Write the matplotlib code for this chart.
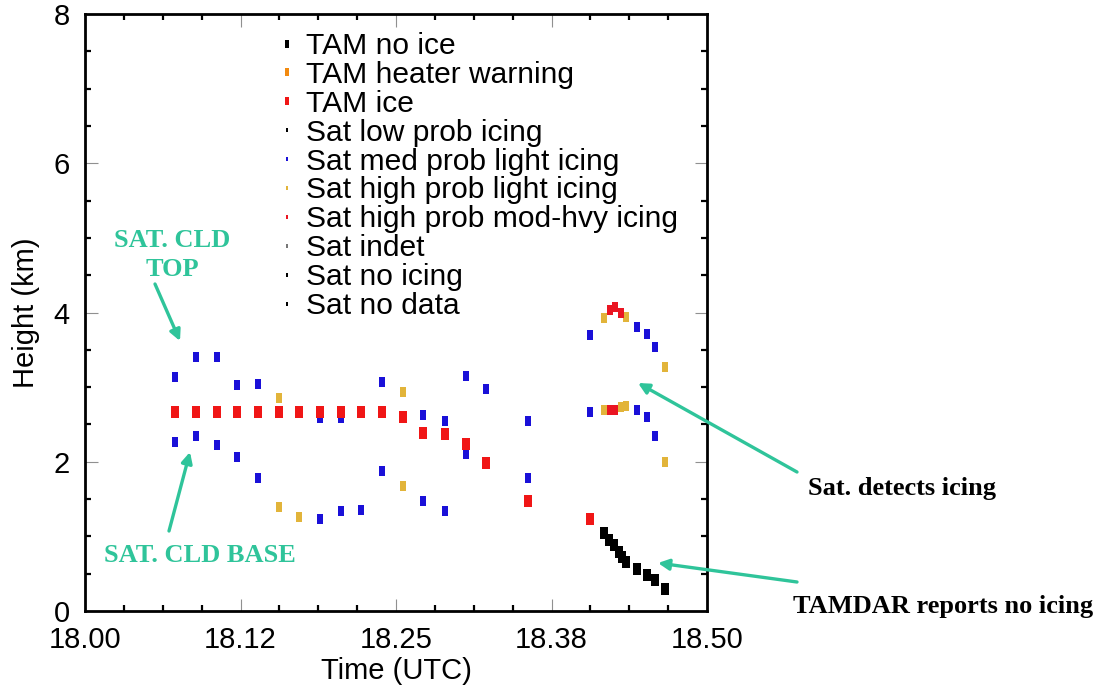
import matplotlib
matplotlib.use("Agg")
import matplotlib.pyplot as plt
import numpy as np
from matplotlib.lines import Line2D
from matplotlib.path import Path
from matplotlib.ticker import MultipleLocator, FixedLocator, FixedFormatter

# ---------------- data ----------------
sat_time = [18.072, 18.089, 18.106, 18.122, 18.139, 18.156, 18.172, 18.189,
            18.206, 18.222, 18.239, 18.256, 18.272, 18.289, 18.306, 18.322,
            18.356,
            18.406, 18.417, 18.422, 18.426, 18.431, 18.435, 18.444, 18.452,
            18.458, 18.466]
sat_top = [3.13, 3.41, 3.41, 3.03, 3.04, 2.86, np.nan, 2.58,
           2.58, np.nan, 3.07, 2.93, 2.62, 2.55, 3.15, 2.98,
           2.54,
           3.70, 3.92, 4.03, 4.08, 4.00, 3.94, 3.80, 3.71, 3.54, 3.27]
sat_top_cat = ["med", "med", "med", "med", "med", "hl", "med", "med",
               "med", "med", "med", "hl", "med", "med", "med", "med",
               "med",
               "med", "hl", "hm", "hm", "hm", "hl", "med", "med", "med", "hl"]
sat_base = [2.26, 2.35, 2.23, 2.06, 1.78, 1.40, 1.26, 1.23,
            1.34, 1.36, 1.87, 1.68, 1.47, 1.34, 2.11, np.nan,
            1.78,
            2.66, 2.69, 2.70, 2.70, 2.74, 2.75, 2.69, 2.60, 2.35, 2.00]
sat_base_cat = ["med", "med", "med", "med", "med", "hl", "hl", "med",
                "med", "med", "med", "hl", "med", "med", "med", "med",
                "med",
                "med", "hl", "hm", "hm", "hl", "hl", "med", "med", "med", "hl"]

tam_time = [18.072, 18.089, 18.106, 18.122, 18.139, 18.156, 18.172, 18.189,
            18.206, 18.222, 18.239, 18.256, 18.272, 18.289, 18.306, 18.322,
            18.356, 18.406,
            18.417, 18.421, 18.425, 18.429, 18.432, 18.435, 18.444, 18.452,
            18.458, 18.466]
tam_height = [2.67, 2.67, 2.67, 2.67, 2.67, 2.67, 2.67, 2.67,
              2.67, 2.67, 2.67, 2.60, 2.38, 2.37, 2.24, 1.98,
              1.47, 1.23,
              1.04, 0.95, 0.88, 0.79, 0.73, 0.66, 0.56, 0.48, 0.42, 0.30]
tam_cat = ["ice"] * 18 + ["no"] * 10

legend_labels = ["TAM no ice", "TAM heater warning", "TAM ice",
                 "Sat low prob icing", "Sat med prob light icing",
                 "Sat high prob light icing", "Sat high prob mod-hvy icing",
                 "Sat indet", "Sat no icing", "Sat no data"]
x_tick_values = [18.0, 18.125, 18.25, 18.375, 18.5]
x_tick_labels = ["18.00", "18.12", "18.25", "18.38", "18.50"]
y_tick_values = [0, 2, 4, 6, 8]

# ---------------- styles ----------------
sat_colors = {"med": "#1a10d8", "hl": "#e2b43a", "hm": "#ea1522"}
tam_colors = {"no": "#000000", "warn": "#f28a10", "ice": "#f01616"}
teal = "#2fc49a"

def rect_marker(aspect):
    w = aspect
    verts = [(-w, -1), (w, -1), (w, 1), (-w, 1), (-w, -1)]
    codes = [Path.MOVETO, Path.LINETO, Path.LINETO, Path.LINETO, Path.CLOSEPOLY]
    return Path(verts, codes)

sat_mk = rect_marker(0.58)
tam_mk = rect_marker(0.58)

plt.rcParams["font.family"] = ["Liberation Sans", "DejaVu Sans"]

fig = plt.figure(figsize=(10.98, 6.86), dpi=100)
W, H = 1098, 686
ax_l, ax_r, ax_t, ax_b = 85, 707, 14, 611
ax = fig.add_axes([ax_l / W, 1 - ax_b / H, (ax_r - ax_l) / W, (ax_b - ax_t) / H])

# satellite points
for times, vals, cats in [(sat_time, sat_top, sat_top_cat), (sat_time, sat_base, sat_base_cat)]:
    for key, col in sat_colors.items():
        xs = [t for t, v, c in zip(times, vals, cats) if c == key]
        ys = [v for t, v, c in zip(times, vals, cats) if c == key]
        ax.plot(xs, ys, linestyle="none", marker=sat_mk, markersize=6.8,
                color=col, markeredgewidth=0, zorder=3)

# TAMDAR points
for key, col in tam_colors.items():
    xs = [t for t, c in zip(tam_time, tam_cat) if c == key]
    ys = [h for h, c in zip(tam_height, tam_cat) if c == key]
    if xs:
        ax.plot(xs, ys, linestyle="none", marker=tam_mk, markersize=8.8,
                color=col, markeredgewidth=0, zorder=4)

ax.set_xlim(18.0, 18.5)
ax.set_ylim(0, 8)

ax.xaxis.set_major_locator(FixedLocator(x_tick_values))
ax.xaxis.set_major_formatter(FixedFormatter(x_tick_labels))
ax.xaxis.set_minor_locator(MultipleLocator(0.03125))
ax.yaxis.set_major_locator(FixedLocator(y_tick_values))
ax.yaxis.set_minor_locator(MultipleLocator(0.5))

ax.tick_params(which="both", direction="in", top=True, right=True)
ax.tick_params(which="major", length=9, width=0.8, color="#909090",
               labelsize=21, pad=11)
ax.tick_params(which="minor", length=4.5, width=1.6, color="black")
for s in ax.spines.values():
    s.set_linewidth(2.0)

ax.set_xlabel("Time (UTC)", fontsize=21, labelpad=2)
ax.set_ylabel("Height (km)", fontsize=21, labelpad=10)

# legend
leg_colors = [tam_colors["no"], tam_colors["warn"], tam_colors["ice"],
              "black", sat_colors["med"], sat_colors["hl"], sat_colors["hm"],
              "#777777", "black", "black"]
leg_sizes = [5.5, 5.5, 5.5, 3, 3, 3, 3, 3, 3, 3]
handles = [Line2D([], [], linestyle="none", marker=tam_mk if i < 3 else sat_mk,
                  markersize=s, color=c, markeredgewidth=0)
           for i, (c, s) in enumerate(zip(leg_colors, leg_sizes))]
leg = fig.legend(handles, legend_labels, loc="upper left",
                 bbox_to_anchor=(281 / W, 1 - 32 / H), frameon=False,
                 fontsize=21.6, handlelength=0.4, handletextpad=0.45,
                 labelspacing=0.03, borderpad=0, borderaxespad=0)

# annotations
serif = ["Liberation Serif", "DejaVu Serif"]
fig.text(172 / W, 1 - 255 / H, "SAT. CLD\nTOP", color=teal, family=serif,
         fontweight="bold", fontsize=19, ha="center", va="center",
         linespacing=1.3)
fig.text(200 / W, 1 - 556 / H, "SAT. CLD BASE", color=teal, family=serif,
         fontweight="bold", fontsize=19, ha="center", va="center")
fig.text(808 / W, 1 - 488 / H, "Sat. detects icing", color="black",
         family=serif, fontweight="bold", fontsize=19, ha="left", va="center")
fig.text(793 / W, 1 - 607 / H, "TAMDAR reports no icing", color="black",
         family=serif, fontweight="bold", fontsize=19, ha="left", va="center")

arrow_kw = dict(arrowstyle="-|>", color=teal, lw=2.4, mutation_scale=16,
                shrinkA=0, shrinkB=0)
for start, end in [((155, 284), (180, 341)), ((169, 531), (190, 452)),
                   ((797, 472), (638, 383)), ((797, 582), (658, 563))]:
    fig.add_artist(matplotlib.patches.FancyArrowPatch(
        (start[0] / W, 1 - start[1] / H), (end[0] / W, 1 - end[1] / H),
        transform=fig.transFigure, **arrow_kw))

fig.savefig("out.png", dpi=100)
